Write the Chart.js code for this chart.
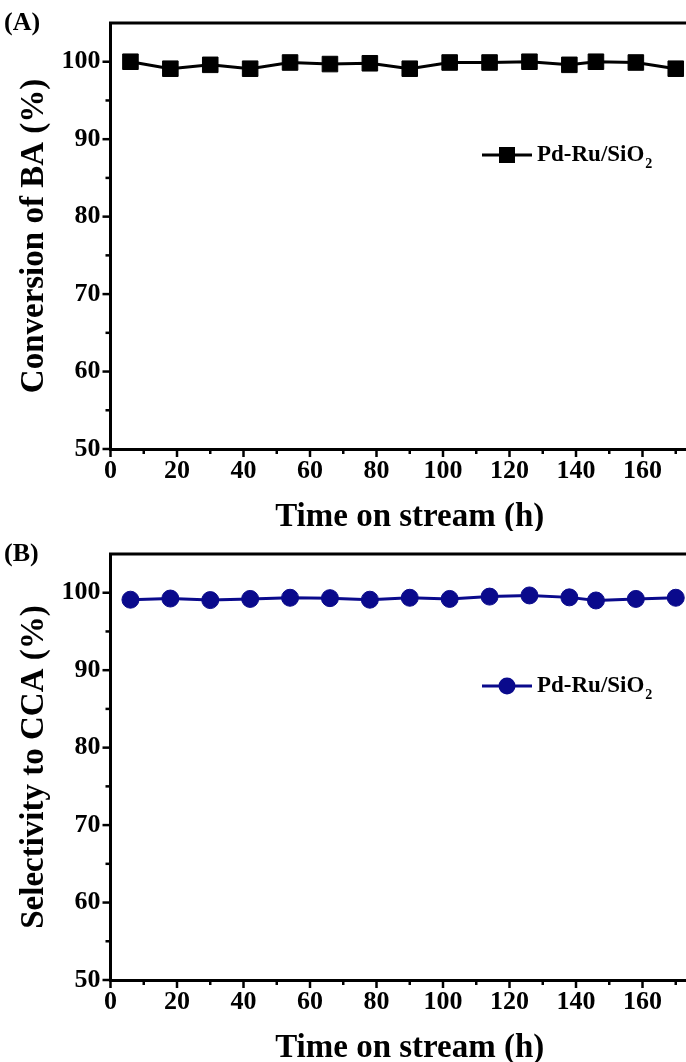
<!DOCTYPE html>
<html>
<head>
<meta charset="utf-8">
<script src="https://cdn.jsdelivr.net/npm/chart.js@4.4.1/dist/chart.umd.min.js"></script>
<style>
html, body { margin: 0; padding: 0; background: #fff; overflow: hidden; }
#wrap { position: relative; width: 686px; height: 1062px; overflow: hidden; }
canvas { position: absolute; left: 0; }
#chartA { top: 0; }
#chartB { top: 531px; }
</style>
</head>
<body>
<div id="wrap">
	<canvas id="chartA" width="760" height="531"></canvas>
	<canvas id="chartB" width="760" height="531"></canvas>
</div>
<script>
// time on stream (h)
const hours = [6, 18, 30, 42, 54, 66, 78, 90, 102, 114, 126, 138, 146, 158, 170];
const conversionBA = [100, 99.1, 99.6, 99.1, 99.9, 99.7, 99.8, 99.1, 99.9, 99.9, 100, 99.6, 100, 99.9, 99.1];
const selectivityCCA = [99.1, 99.25, 99.05, 99.2, 99.35, 99.3, 99.1, 99.35, 99.2, 99.5, 99.65, 99.4, 99.0, 99.2, 99.35];

const xTickValues = [0, 20, 40, 60, 80, 100, 120, 140, 160, 180];
const xMinorTicks = [10, 30, 50, 70, 90, 110, 130, 150, 170];
const yTickValues = [50, 60, 70, 80, 90, 100];
const yMinorTicks = [55, 65, 75, 85, 95];

const seriesLabel = 'Pd-Ru/SiO\u2082';
const FONT = '"Liberation Serif", "Times New Roman", serif';

const axisDecor = {
	id: 'axisDecor',
	afterDraw(chart, args, opts) {
		const ctx = chart.ctx;
		const a = chart.chartArea;
		const x = chart.scales.x;
		const y = chart.scales.y;
		ctx.save();
		ctx.strokeStyle = '#000';
		ctx.lineWidth = 3;
		// top frame
		ctx.beginPath();
		ctx.moveTo(a.left - 1.5, a.top);
		ctx.lineTo(chart.width, a.top);
		ctx.stroke();
		// tick marks, outward
		ctx.lineWidth = 2.5;
		const tick = (v, len, horiz) => {
			ctx.beginPath();
			if (horiz) {
				const px = x.getPixelForValue(v);
				ctx.moveTo(px, a.bottom);
				ctx.lineTo(px, a.bottom + len);
			} else {
				const py = y.getPixelForValue(v);
				ctx.moveTo(a.left, py);
				ctx.lineTo(a.left - len, py);
			}
			ctx.stroke();
		};
		xTickValues.forEach(v => tick(v, 8, true));
		xMinorTicks.forEach(v => tick(v, 5, true));
		yTickValues.forEach(v => tick(v, 8, false));
		yMinorTicks.forEach(v => tick(v, 5, false));

		// panel tag
		ctx.fillStyle = '#000';
		ctx.font = 'bold 26px ' + FONT;
		ctx.textBaseline = 'middle';
		ctx.textAlign = 'left';
		ctx.fillText(opts.tag, 4, 23);

		// legend
		const ly = 155;
		ctx.strokeStyle = opts.color;
		ctx.fillStyle = opts.color;
		ctx.lineWidth = 3;
		ctx.beginPath();
		ctx.moveTo(482, ly);
		ctx.lineTo(532, ly);
		ctx.stroke();
		if (opts.style === 'rect') {
			ctx.fillRect(499, ly - 8, 16, 16);
		} else {
			ctx.beginPath();
			ctx.arc(507, ly, 8.5, 0, Math.PI * 2);
			ctx.fill();
		}
		ctx.fillStyle = '#000';
		ctx.font = 'bold 23px ' + FONT;
		ctx.fillText('Pd-Ru/SiO', 537, ly);
		const w = ctx.measureText('Pd-Ru/SiO').width;
		ctx.font = 'bold 14px ' + FONT;
		ctx.fillText('2', 537 + w + 1, ly + 9);
		ctx.restore();
	}
};

function makeChart(id, values, color, style, radius, yTitle, tag) {
	return new Chart(document.getElementById(id).getContext('2d'), {
		type: 'line',
		data: {
			datasets: [{
				label: seriesLabel,
				data: hours.map((h, i) => ({x: h, y: values[i]})),
				borderColor: color,
				backgroundColor: color,
				borderWidth: 3,
				pointStyle: style,
				pointRadius: radius,
				pointBackgroundColor: color,
				pointBorderColor: color,
				pointBorderWidth: 1,
				tension: 0
			}]
		},
		options: {
			responsive: false,
			animation: false,
			devicePixelRatio: 1,
			layout: { padding: { left: 0, top: 23, right: 51, bottom: 0 } },
			plugins: {
				legend: { display: false },
				tooltip: { enabled: false },
				axisDecor: { tag: tag, color: color, style: style }
			},
			scales: {
				x: {
					type: 'linear',
					min: 0,
					max: 180,
					afterFit: s => { s.height = 82; },
					afterBuildTicks: s => { s.ticks = xTickValues.map(v => ({value: v})); },
					border: { display: true, color: '#000', width: 3 },
					grid: { display: true, drawOnChartArea: false, drawTicks: true, tickLength: 8, tickColor: 'rgba(0,0,0,0)' },
					ticks: {
						color: '#000',
						padding: 0,
						maxRotation: 0,
						autoSkip: false,
						font: { family: FONT, size: 26, weight: 'bold', lineHeight: 1.1 }
					},
					title: {
						display: true,
						text: 'Time on stream (h)',
						color: '#000',
						padding: 0,
						font: { family: FONT, size: 33, weight: 'bold', lineHeight: 0.85 }
					}
				},
				y: {
					min: 50,
					max: 105,
					afterFit: s => { s.width = 110.5; },
					afterBuildTicks: s => { s.ticks = yTickValues.map(v => ({value: v})); },
					border: { display: true, color: '#000', width: 3 },
					grid: { display: true, drawOnChartArea: false, drawTicks: true, tickLength: 8, tickColor: 'rgba(0,0,0,0)' },
					ticks: {
						color: '#000',
						padding: 2,
						font: { family: FONT, size: 26, weight: 'bold' }
					},
					title: {
						display: true,
						text: yTitle,
						color: '#000',
						padding: { top: 18, bottom: 0 },
						font: { family: FONT, size: 33, weight: 'bold', lineHeight: 1 }
					}
				}
			}
		},
		plugins: [axisDecor]
	});
}

makeChart('chartA', conversionBA, '#000000', 'rect', 11, 'Conversion of BA (%)', '(A)');
makeChart('chartB', selectivityCCA, '#0a0a8c', 'circle', 8.5, 'Selectivity to CCA (%)', '(B)');
</script>
</body>
</html>
